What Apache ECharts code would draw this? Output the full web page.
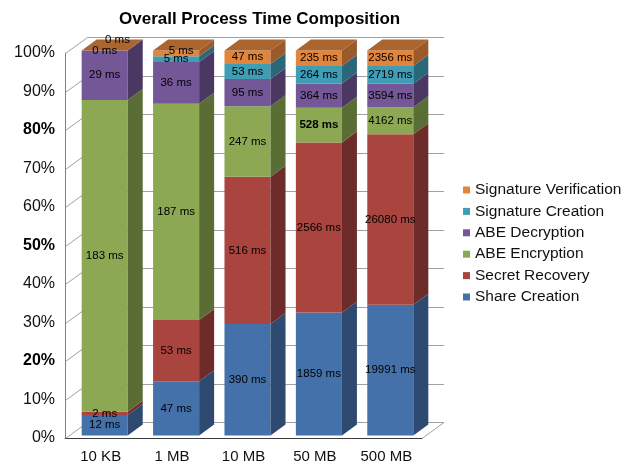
<!DOCTYPE html>
<html>
<head>
<meta charset="utf-8">
<script src="https://cdn.jsdelivr.net/npm/echarts@6/dist/echarts.min.js"></script>
<style>
  html, body { margin: 0; padding: 0; background: #fff; }
  #chart { width: 626px; height: 464px; }
</style>
</head>
<body>
<div id="chart"></div>
<script>
// ---- data (milliseconds per stage) ----
const categories = ['10 KB', '1 MB', '10 MB', '50 MB', '500 MB'];
const seriesNames = ['Share Creation', 'Secret Recovery', 'ABE Encryption', 'ABE Decryption', 'Signature Creation', 'Signature Verification'];
const shareCreation = [12, 47, 390, 1859, 19991];
const secretRecovery = [2, 53, 516, 2566, 26080];
const abeEncryption = [183, 187, 247, 528, 4162];
const abeDecryption = [29, 36, 95, 364, 3594];
const signatureCreation = [0, 5, 53, 264, 2719];
const signatureVerification = [0, 5, 47, 235, 2356];
const yTicks = [0, 10, 20, 30, 40, 50, 60, 70, 80, 90, 100];

// ---- styling ----
const FONT = 'Liberation Sans, Arial, sans-serif';
const palette = [
  { front: '#4571ab', side: '#2e4a70', top: '#3a5f90' },
  { front: '#a9443f', side: '#6d2b29', top: '#8a3633' },
  { front: '#8ca853', side: '#5a6d35', top: '#738a43' },
  { front: '#735797', side: '#4a3862', top: '#5e477c' },
  { front: '#3f9db5', side: '#296779', top: '#338299' },
  { front: '#e2843a', side: '#9a5a2a', top: '#ab652e' }
];
const WALL = [22, -16];     // depth of the floor / back wall
const BAR_DEPTH = [15, -11]; // depth of each box
const INSET = [4, -2.5];    // box front sits slightly behind the floor edge
const BAR_RATIO = 0.645;
const BOLD_TICKS = [20, 50, 80];
const BOLD_LABEL = { series: 2, category: 3 };

// ---- stack into percentages of each file size's total ----
const msBySeries = [shareCreation, secretRecovery, abeEncryption, abeDecryption, signatureCreation, signatureVerification];
const totals = categories.map((_, i) => msBySeries.reduce((s, arr) => s + arr[i], 0));
const cum = categories.map(() => 0);
const stacked = msBySeries.map(arr => arr.map((v, i) => {
  const lo = cum[i];
  const hi = lo + v / totals[i] * 100;
  cum[i] = hi;
  return [i, lo, hi, v];
}));

function boxRenderer(s) {
  const isTop = s === msBySeries.length - 1;
  const col = palette[s];
  return function (params, api) {
    const c = api.value(0), lo = api.value(1), hi = api.value(2), ms = api.value(3);
    const band = api.size([1, 0])[0];
    const w = band * BAR_RATIO;
    const pLo = api.coord([c, lo]);
    const pHi = api.coord([c, hi]);
    const x0 = pLo[0] - w / 2 + INSET[0];
    const x1 = x0 + w;
    const yb = pLo[1] + INSET[1];
    const yt = pHi[1] + INSET[1];
    const [dx, dy] = BAR_DEPTH;
    const children = [
      { type: 'rect', shape: { x: x0, y: yt, width: w, height: yb - yt }, style: { fill: col.front } },
      { type: 'polygon', shape: { points: [[x1, yb], [x1, yt], [x1 + dx, yt + dy], [x1 + dx, yb + dy]] }, style: { fill: col.side } }
    ];
    if (isTop) {
      children.push({ type: 'polygon', shape: { points: [[x0, yt], [x1, yt], [x1 + dx, yt + dy], [x0 + dx, yt + dy]] }, style: { fill: col.top } });
    }
    // label sits in the middle of the front face; a thin cap segment pushes it up onto the lid
    let lx = (x0 + x1) / 2, ly = (yb + yt) / 2;
    const h = yb - yt;
    if (isTop && h < 1) { lx += dx * 0.85; ly += dy * 0.95; }
    else if (isTop && h < 8) { lx += 5; ly -= 3; }
    const bold = s === BOLD_LABEL.series && c === BOLD_LABEL.category;
    children.push({
      type: 'text', x: lx, y: ly, z2: 100,
      style: { text: ms + ' ms', fill: '#000', fontSize: 11.5, fontFamily: FONT, fontWeight: bold ? 'bold' : 'normal', align: 'center', verticalAlign: 'middle' }
    });
    return { type: 'group', children };
  };
}

function wallRenderer(params, api) {
  const cs = params.coordSys;
  const v = api.value(1);
  const y = Math.round(api.coord([0, v])[1]) + 0.5;
  const left = cs.x + 0.5, right = cs.x + cs.width;
  const [dx, dy] = WALL;
  const children = [{
    type: 'polyline',
    shape: { points: [[left, y], [left + dx, y + dy], [right + dx, y + dy]] },
    style: { stroke: '#a0a0a0', lineWidth: 1, fill: null }
  }];
  if (v === 0) {
    children.push({ type: 'line', shape: { x1: right, y1: y, x2: right + dx, y2: y + dy }, style: { stroke: '#a0a0a0', lineWidth: 1 } });
  }
  return { type: 'group', children };
}

const series = [{
  type: 'custom', name: 'wall', silent: true, z: 1,
  renderItem: wallRenderer,
  encode: { x: 0, y: 1 },
  data: yTicks.map(v => [0, v])
}].concat(stacked.map((data, s) => ({
  type: 'custom', name: seriesNames[s], z: 2,
  renderItem: boxRenderer(s),
  encode: { x: 0, y: [1, 2] },
  itemStyle: { color: palette[s].front },
  data
})));

const chart = echarts.init(document.getElementById('chart'), null, { renderer: 'canvas' });
chart.setOption({
  animation: false,
  textStyle: { fontFamily: FONT },
  title: {
    text: 'Overall Process Time Composition',
    left: 114, top: 6,
    textStyle: { fontSize: 17, fontWeight: 'bold', color: '#000', fontFamily: FONT }
  },
  legend: {
    data: seriesNames.slice().reverse(),
    orient: 'vertical',
    left: 458, top: 177,
    icon: 'rect', itemWidth: 7, itemHeight: 7, itemGap: 5.4,
    textStyle: { fontSize: 15.5, lineHeight: 16, color: '#111', fontFamily: FONT }
  },
  grid: { left: 65, right: 204, top: 53, bottom: 26, containLabel: false },
  xAxis: {
    type: 'category', data: categories,
    axisLine: { lineStyle: { color: '#3a3a3a', width: 1 } },
    axisTick: { show: false },
    axisLabel: { fontSize: 15, color: '#111', margin: 11, fontFamily: FONT }
  },
  yAxis: {
    type: 'value', min: 0, max: 100, interval: 10,
    axisLine: { show: true, lineStyle: { color: '#808080', width: 1 } },
    axisTick: { show: false },
    splitLine: { show: false },
    axisLabel: {
      fontSize: 16, color: '#111', margin: 10, fontFamily: FONT,
      formatter: v => BOLD_TICKS.indexOf(v) >= 0 ? '{b|' + v + '%}' : v + '%',
      rich: { b: { fontSize: 16, fontWeight: 'bold', color: '#000', fontFamily: FONT } }
    }
  },
  series
});
</script>
</body>
</html>
